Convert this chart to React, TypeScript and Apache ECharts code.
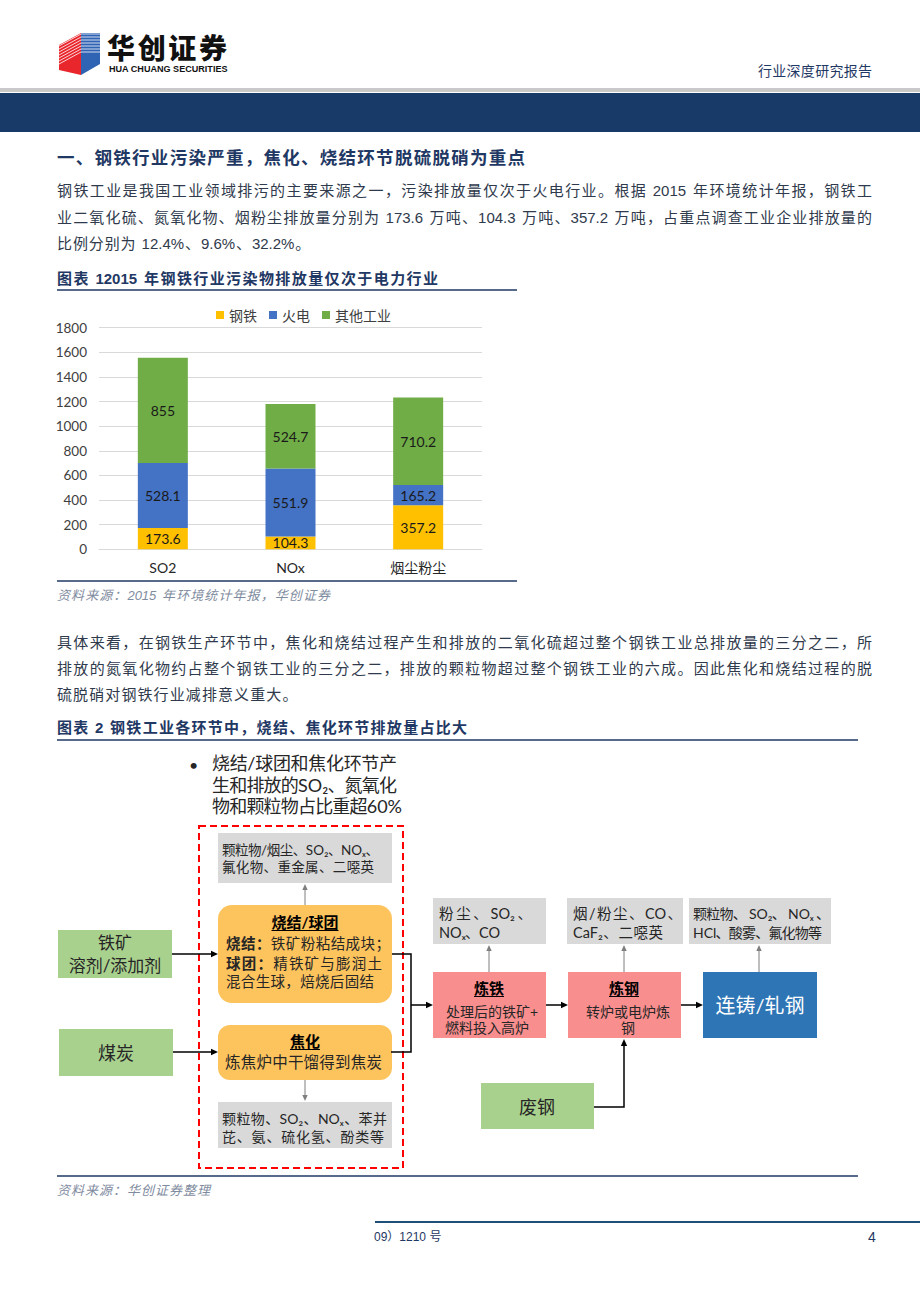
import React, { useEffect, useRef } from 'react';
import * as echarts from 'echarts';

// ---------- data ----------
const categories = ['SO2', 'NOx', '烟尘粉尘'];
const seriesNames = ['钢铁', '火电', '其他工业'];
const steelValues = [173.6, 104.3, 357.2];
const powerValues = [528.1, 551.9, 165.2];
const otherValues = [855, 524.7, 710.2];
const yMin = 0;
const yMax = 1800;
const yInterval = 200;

const headerRight = '行业深度研究报告';
const sectionTitle = '一、钢铁行业污染严重，焦化、烧结环节脱硫脱硝为重点';
const para1 = [
  '钢铁工业是我国工业领域排污的主要来源之一，污染排放量仅次于火电行业。根据 2015 年环境统计年报，钢铁工',
  '业二氧化硫、氮氧化物、烟粉尘排放量分别为 173.6 万吨、104.3 万吨、357.2 万吨，占重点调查工业企业排放量的',
  '比例分别为 12.4%、9.6%、32.2%。',
];
const chart1Title = '图表 12015 年钢铁行业污染物排放量仅次于电力行业';
const chart1Source = '资料来源：2015 年环境统计年报，华创证券';
const para2 = [
  '具体来看，在钢铁生产环节中，焦化和烧结过程产生和排放的二氧化硫超过整个钢铁工业总排放量的三分之二，所',
  '排放的氮氧化物约占整个钢铁工业的三分之二，排放的颗粒物超过整个钢铁工业的六成。因此焦化和烧结过程的脱',
  '硫脱硝对钢铁行业减排意义重大。',
];
const chart2Title = '图表 2 钢铁工业各环节中，烧结、焦化环节排放量占比大';
const chart2Source = '资料来源：华创证券整理';
const bulletLines = ['烧结/球团和焦化环节产', '生和排放的SO₂、氮氧化', '物和颗粒物占比重超60%'];

// ---------- fonts & colors ----------
const BODY_FONT = "'Liberation Sans', 'Noto Sans CJK SC', sans-serif";
const DIAG_FONT = "Lato, 'Noto Sans CJK SC', 'DejaVu Sans', sans-serif";
const CHART_FONT = "Lato, 'Noto Sans CJK SC', sans-serif";
const NAVY = '#1f3864';
const TEXT = '#2f3a4c';
const DARK = '#262626';

let mctx: CanvasRenderingContext2D | null = null;
function measure(t: string, size: number, weight: any, italic: boolean | undefined, fam: string) {
  if (!mctx) mctx = document.createElement('canvas').getContext('2d');
  mctx!.font = `${italic ? 'italic ' : ''}${weight} ${size}px ${fam}`;
  return mctx!.measureText(t).width;
}

type TOpts = {
  size: number; color: string; weight?: any; italic?: boolean; family?: string;
  width?: number; gap?: number; boldN?: number;
};

function textLine(s: string, x: number, y: number, o: TOpts): any[] {
  const fam = o.family || BODY_FONT;
  const toks = s.match(/[A-Za-z0-9.%+₂ₓ]+|[\s\S]/g) || [];
  const wts = toks.map((_, i) => (o.boldN && i < o.boldN ? 'bold' : o.weight ?? 'normal'));
  const ws = toks.map((t, i) => measure(t, o.size, wts[i], o.italic, fam));
  const nat = ws.reduce((a, b) => a + b, 0);
  const gap = o.width != null && toks.length > 1 ? (o.width - nat) / (toks.length - 1) : o.gap ?? 0;
  const els: any[] = [];
  let cx = x;
  toks.forEach((t, i) => {
    if (t.trim()) {
      els.push({
        type: 'text', x: cx, y, silent: true,
        style: {
          text: t, fill: o.color, fontSize: o.size, fontFamily: fam, fontWeight: wts[i],
          fontStyle: o.italic ? 'italic' : 'normal', align: 'left', verticalAlign: 'middle',
        },
      });
    }
    cx += ws[i] + gap;
  });
  return els;
}

function centerText(s: string, x: number, y: number, size: number, color: string, weight: any = 'normal', family = DIAG_FONT, underline = false): any[] {
  const els: any[] = [{
    type: 'text', x, y, silent: true,
    style: { text: s, fill: color, fontSize: size, fontFamily: family, fontWeight: weight, align: 'center', verticalAlign: 'middle' },
  }];
  if (underline) {
    const w = measure(s, size, weight, false, family);
    els.push({ type: 'line', silent: true, shape: { x1: x - w / 2, y1: y + size / 2 + 1, x2: x + w / 2, y2: y + size / 2 + 1 }, style: { stroke: '#000', lineWidth: 1 } });
  }
  return els;
}

function rect(x: number, y: number, w: number, h: number, fill: string, r = 0): any {
  return { type: 'rect', silent: true, shape: { x, y, width: w, height: h, r }, style: { fill } };
}

function hline(x1: number, x2: number, y: number, color: string, lw: number): any {
  return { type: 'line', silent: true, shape: { x1, y1: y, x2, y2: y }, style: { stroke: color, lineWidth: lw } };
}

function arrow(points: number[][], color: string, lw: number, head = 7): any[] {
  const n = points.length;
  const [x1, y1] = points[n - 2];
  const [x2, y2] = points[n - 1];
  const a = Math.atan2(y2 - y1, x2 - x1);
  const c = Math.cos(a), s = Math.sin(a);
  const bx = x2 - head * c, by = y2 - head * s;
  const W = head * 0.45;
  const pts = points.slice(0, n - 1).concat([[bx, by]]);
  return [
    { type: 'polyline', silent: true, shape: { points: pts }, style: { stroke: color, lineWidth: lw, fill: null } },
    { type: 'polygon', silent: true, shape: { points: [[x2, y2], [bx + W * s, by - W * c], [bx - W * s, by + W * c]] }, style: { fill: color } },
  ];
}

function buildGraphics(): any[] {
  const g: any[] = [];
  // ---- header ----
  g.push({ type: 'polygon', silent: true, shape: { points: [[59, 45], [81, 33], [81, 75], [59, 70]] }, style: { fill: '#e8262c' } });
  g.push({ type: 'polygon', silent: true, shape: { points: [[81, 33], [100, 33], [100, 64], [81, 75]] }, style: { fill: '#2f63b3' } });
  for (let i = 0; i < 7; i++) {
    g.push({ type: 'polyline', silent: true, shape: { points: [[59, 46 + 3 * i], [81, 34 + 3 * i], [100, 34 + 3 * i]] }, style: { stroke: '#ffffff', lineWidth: 0.8, fill: null } });
  }
  g.push(...textLine('华创证券', 107, 47, { size: 28, color: '#111', weight: 900, family: "'Noto Sans CJK SC', sans-serif", width: 120 }));
  const engFam = "'Liberation Sans', sans-serif";
  const engText = 'HUA CHUANG SECURITIES';
  const engSize = Math.min(10, (10 * 119) / measure(engText, 10, 'bold', false, engFam));
  g.push({ type: 'text', x: 109, y: 69, silent: true, style: { text: engText, fill: '#111', fontSize: engSize, fontFamily: engFam, fontWeight: 'bold', align: 'left', verticalAlign: 'middle' } });
  g.push(...textLine(headerRight, 758, 71, { size: 14, color: NAVY, width: 114 }));
  g.push(rect(0, 88, 920, 4, '#c9c9c9'));
  g.push(rect(0, 93, 920, 39, '#173a69'));

  // ---- section title & paragraph 1 ----
  g.push(...textLine(sectionTitle, 57, 158, { size: 17.5, color: NAVY, weight: 'bold', width: 468 }));
  const p1y = [190, 217, 243];
  para1.forEach((l, i) => g.push(...textLine(l, 57, p1y[i], { size: 15, color: TEXT, ...(i < para1.length - 1 ? { width: 815 } : { gap: 0.9 }) })));

  // ---- chart 1 frame ----
  g.push(...textLine(chart1Title, 57, 278, { size: 15, color: NAVY, weight: 'bold', width: 381 }));
  g.push(hline(57, 517, 290, NAVY, 1.5));
  g.push(hline(57, 517, 581, NAVY, 1.5));
  g.push(...textLine(chart1Source, 57, 595, { size: 13, color: '#7f8ca0', italic: true, width: 273 }));

  // ---- paragraph 2 ----
  const p2y = [642, 668, 694];
  para2.forEach((l, i) => g.push(...textLine(l, 57, p2y[i], { size: 15, color: TEXT, ...(i < para2.length - 1 ? { width: 815 } : { gap: 1.1 }) })));

  // ---- chart 2 frame ----
  g.push(...textLine(chart2Title, 57, 727, { size: 15, color: NAVY, weight: 'bold', width: 410 }));
  g.push(hline(57, 858, 740, NAVY, 1.5));
  g.push(hline(57, 858, 1176, NAVY, 1.5));
  g.push(...textLine(chart2Source, 57, 1190, { size: 13, color: '#7f8ca0', italic: true, width: 153 }));

  // ---- diagram ----
  g.push({ type: 'text', x: 189, y: 764, silent: true, style: { text: '•', fill: DARK, fontSize: 16, fontFamily: DIAG_FONT, align: 'left', verticalAlign: 'middle' } });
  const by = [763, 785, 806];
  const bw = [185, 185, 190];
  bulletLines.forEach((l, i) => g.push(...textLine(l, 212, by[i], { size: 18, color: DARK, family: DIAG_FONT, width: bw[i] })));

  g.push({ type: 'rect', silent: true, shape: { x: 199, y: 826, width: 204, height: 342 }, style: { fill: null, stroke: '#ff0000', lineWidth: 2, lineDash: [7, 4] } });

  // sinter
  g.push(rect(218, 833, 174, 50, '#d9d9d9'));
  g.push(...textLine('颗粒物/烟尘、SO₂、NOₓ、', 222, 850, { size: 13.5, color: DARK, family: DIAG_FONT, width: 157 }));
  g.push(...textLine('氟化物、重金属、二噁英', 222, 867, { size: 13.5, color: DARK, family: DIAG_FONT, width: 152 }));
  g.push(...arrow([[305, 905], [305, 884]], '#7f7f7f', 1, 6));
  g.push(rect(218, 905, 174, 98, '#fdc35d', 14));
  g.push(...centerText('烧结/球团', 305, 922, 15, '#000', 'bold', DIAG_FONT, true));
  g.push(...textLine('烧结：铁矿粉粘结成块；', 226, 943, { size: 14.5, color: DARK, family: DIAG_FONT, width: 164, boldN: 3 }));
  g.push(...textLine('球团：精铁矿与膨润土', 226, 963, { size: 14.5, color: DARK, family: DIAG_FONT, width: 156, boldN: 3 }));
  g.push(...textLine('混合生球，焙烧后固结', 226, 981, { size: 14.5, color: DARK, family: DIAG_FONT, width: 148 }));

  // coking
  g.push(rect(218, 1025, 174, 55, '#fdc35d', 12));
  g.push(...centerText('焦化', 305, 1041, 15, '#000', 'bold', DIAG_FONT, true));
  g.push(...textLine('炼焦炉中干馏得到焦炭', 225, 1062, { size: 15.5, color: DARK, family: DIAG_FONT, width: 157 }));
  g.push(...arrow([[305, 1080], [305, 1101]], '#7f7f7f', 1, 6));
  g.push(rect(218, 1102, 174, 46, '#d9d9d9'));
  g.push(...textLine('颗粒物、SO₂、NOₓ、苯并', 222, 1118, { size: 14, color: DARK, family: DIAG_FONT, width: 165 }));
  g.push(...textLine('芘、氨、硫化氢、酚类等', 222, 1136, { size: 14, color: DARK, family: DIAG_FONT, width: 162 }));

  // inputs
  g.push(rect(58, 930, 114, 48, '#a9d18e'));
  g.push(...centerText('铁矿', 115, 942, 17, DARK));
  g.push(...centerText('溶剂/添加剂', 115, 965, 17, DARK));
  g.push(rect(59, 1029, 114, 47, '#a9d18e'));
  g.push(...centerText('煤炭', 116, 1053, 18, DARK));
  g.push(...arrow([[172, 954], [218, 954]], '#000', 1.5));
  g.push(...arrow([[173, 1052], [218, 1052]], '#000', 1.5));
  g.push({ type: 'polyline', silent: true, shape: { points: [[392, 954], [411, 954], [411, 1052], [391, 1052]] }, style: { stroke: '#000', lineWidth: 1.5, fill: null } });
  g.push(...arrow([[411, 1005], [433, 1005]], '#000', 1.5));

  // iron making
  g.push(rect(433, 898, 113, 46, '#d9d9d9'));
  g.push(...textLine('粉 尘 、 SO₂ 、', 439, 913, { size: 14.5, color: DARK, family: DIAG_FONT, width: 93 }));
  g.push(...textLine('NOₓ 、 CO', 439, 932, { size: 14.5, color: DARK, family: DIAG_FONT, width: 61 }));
  g.push(...arrow([[489, 972], [489, 945]], '#7f7f7f', 1, 6));
  g.push(rect(433, 972, 113, 66, '#f98e8e'));
  g.push(...centerText('炼铁', 489, 988, 15, '#000', 'bold', DIAG_FONT, true));
  g.push(...centerText('处理后的铁矿+', 492, 1011, 14, DARK));
  g.push(...centerText('燃料投入高炉', 487, 1027, 14, DARK));
  g.push(...arrow([[546, 1005], [568, 1005]], '#000', 1.5));

  // steel making
  g.push(rect(567, 898, 116, 46, '#d9d9d9'));
  g.push(...textLine('烟 / 粉 尘 、 CO 、', 573, 913, { size: 14.5, color: DARK, family: DIAG_FONT, width: 109 }));
  g.push(...textLine('CaF₂、二噁英', 573, 932, { size: 14.5, color: DARK, family: DIAG_FONT, width: 90 }));
  g.push(...arrow([[624, 972], [624, 945]], '#7f7f7f', 1, 6));
  g.push(rect(568, 972, 113, 66, '#f98e8e'));
  g.push(...centerText('炼钢', 624, 988, 15, '#000', 'bold', DIAG_FONT, true));
  g.push(...centerText('转炉或电炉炼', 628, 1011, 14, DARK));
  g.push(...centerText('钢', 628, 1027, 14, DARK));
  g.push(...arrow([[681, 1005], [703, 1005]], '#000', 1.5));

  // casting / rolling
  g.push(rect(689, 898, 142, 46, '#d9d9d9'));
  g.push(...textLine('颗粒物、 SO₂、 NOₓ 、', 693, 913, { size: 14, color: DARK, family: DIAG_FONT, width: 137 }));
  g.push(...textLine('HCl、酸雾、氟化物等', 693, 932, { size: 14, color: DARK, family: DIAG_FONT, width: 129 }));
  g.push(...arrow([[759, 972], [759, 945]], '#7f7f7f', 1, 6));
  g.push(rect(703, 972, 114, 66, '#2e75b6'));
  g.push(...centerText('连铸/轧钢', 760, 1005, 20, '#ffffff'));

  // scrap
  g.push(rect(481, 1083, 113, 46, '#a9d18e'));
  g.push(...centerText('废钢', 537, 1107, 18, DARK));
  g.push(...arrow([[594, 1107], [624, 1107], [624, 1039]], '#000', 1.5));

  // ---- footer ----
  g.push(hline(375, 920, 1222, '#1f4e79', 2));
  g.push({ type: 'text', x: 374, y: 1237, silent: true, style: { text: '09）1210 号', fill: NAVY, fontSize: 12, fontFamily: BODY_FONT, align: 'left', verticalAlign: 'middle' } });
  g.push({ type: 'text', x: 868, y: 1237, silent: true, style: { text: '4', fill: NAVY, fontSize: 14, fontFamily: BODY_FONT, align: 'left', verticalAlign: 'middle' } });
  return g;
}

function buildOption(): any {
  const label = { show: true, position: 'inside', color: '#1a1a1a', fontSize: 14, fontFamily: CHART_FONT };
  const values = [steelValues, powerValues, otherValues];
  const colors = ['#ffc000', '#4472c4', '#70ad47'];
  return {
    animation: false,
    backgroundColor: '#ffffff',
    textStyle: { fontFamily: BODY_FONT },
    legend: {
      data: seriesNames, top: 303, left: 211, icon: 'rect', itemWidth: 8, itemHeight: 8, itemGap: 12,
      textStyle: { fontSize: 14, color: '#404040', fontFamily: CHART_FONT },
    },
    grid: { left: 99, top: 327.7, width: 383, height: 221.6, containLabel: false },
    xAxis: {
      type: 'category', data: categories,
      axisLine: { lineStyle: { color: '#d9d9d9' } }, axisTick: { show: false },
      axisLabel: { color: '#262626', fontSize: 14, margin: 11, fontFamily: CHART_FONT },
    },
    yAxis: {
      type: 'value', min: yMin, max: yMax, interval: yInterval,
      axisLine: { show: false }, axisTick: { show: false },
      axisLabel: { color: '#404040', fontSize: 13.5, margin: 12, fontFamily: CHART_FONT, formatter: (v: number) => String(v) },
      splitLine: { lineStyle: { color: '#d9d9d9' } },
    },
    series: seriesNames.map((name, i) => ({
      name, type: 'bar', stack: 'total', barWidth: 50, data: values[i],
      itemStyle: { color: colors[i] }, label,
    })),
    graphic: { elements: buildGraphics() },
  };
}

export default function App() {
  const ref = useRef<HTMLDivElement>(null);
  useEffect(() => {
    const chart = echarts.init(ref.current!, null, { renderer: 'svg' });
    chart.setOption(buildOption());
    return () => chart.dispose();
  }, []);
  return <div ref={ref} style={{ position: 'absolute', left: 0, top: 0, width: 920, height: 1302, background: '#fff' }} />;
}
